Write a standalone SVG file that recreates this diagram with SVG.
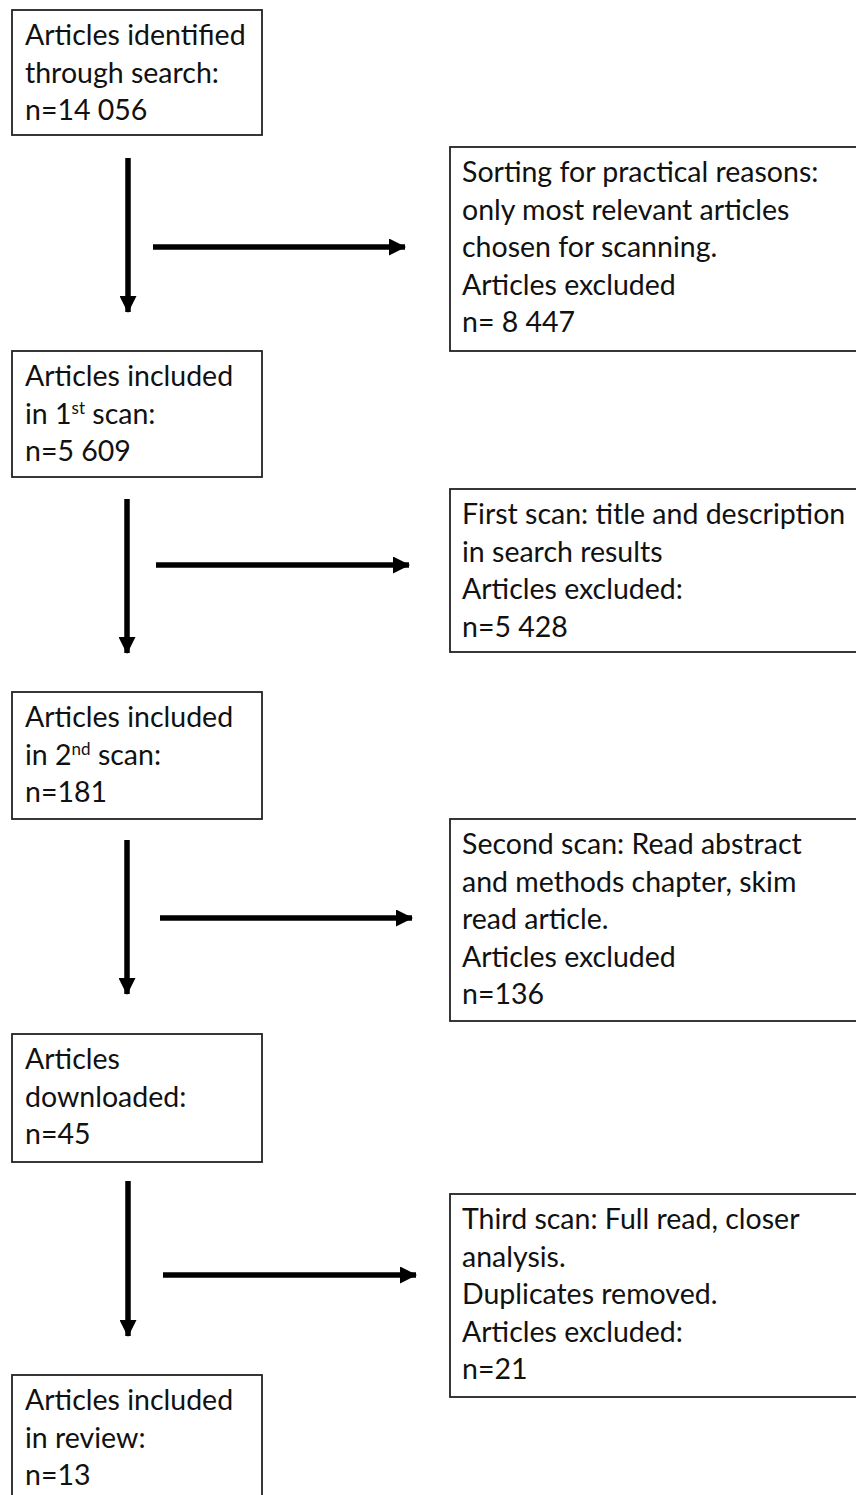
<svg xmlns="http://www.w3.org/2000/svg" width="856" height="1495" viewBox="0 0 856 1495">
<defs>
<style>
.box{fill:#fff;stroke:#222;stroke-width:1.8}
.t{font-family:Lato,"Liberation Sans",sans-serif;font-size:28.5px;fill:#111}
.sup{font-size:17px}
.c{stroke:#000;stroke-width:5.5;fill:none}
</style>
<marker id="ah" markerUnits="userSpaceOnUse" markerWidth="17" markerHeight="17" viewBox="0 0 17 17" refX="16" refY="8.5" orient="auto">
<path d="M0,0 L17,8.5 L0,17 Z" fill="#000"/>
</marker>
</defs>
<rect width="856" height="1495" fill="#fff"/>
<g id="connectors">
<line class="c" x1="128" y1="158" x2="128" y2="312" marker-end="url(#ah)"/>
<line class="c" x1="153" y1="247" x2="405" y2="247" marker-end="url(#ah)"/>
<line class="c" x1="127" y1="499" x2="127" y2="653" marker-end="url(#ah)"/>
<line class="c" x1="156" y1="565" x2="409" y2="565" marker-end="url(#ah)"/>
<line class="c" x1="127" y1="840" x2="127" y2="994" marker-end="url(#ah)"/>
<line class="c" x1="160" y1="918" x2="412" y2="918" marker-end="url(#ah)"/>
<line class="c" x1="128" y1="1181" x2="128" y2="1336" marker-end="url(#ah)"/>
<line class="c" x1="163" y1="1275" x2="416" y2="1275" marker-end="url(#ah)"/>
</g>
<g id="n1"><rect class="box" x="12" y="10" width="250" height="125"/>
<text class="t" x="25"><tspan x="25" y="45">Articles identified</tspan><tspan x="25" y="82.5">through search:</tspan><tspan x="25" y="120">n=14 056</tspan></text></g>
<g id="r1"><rect class="box" x="450" y="147" width="420" height="204"/>
<text class="t"><tspan x="462" y="182">Sorting for practical reasons:</tspan><tspan x="462" y="219.5">only most relevant articles</tspan><tspan x="462" y="257">chosen for scanning.</tspan><tspan x="462" y="294.5">Articles excluded</tspan><tspan x="462" y="332">n= 8 447</tspan></text></g>
<g id="n2"><rect class="box" x="12" y="351" width="250" height="126"/>
<text class="t"><tspan x="25" y="386">Articles included</tspan><tspan x="25" y="423.5">in 1<tspan class="sup" dy="-10">st</tspan><tspan dy="10"> scan:</tspan></tspan><tspan x="25" y="461">n=5 609</tspan></text></g>
<g id="r2"><rect class="box" x="450" y="489" width="420" height="163"/>
<text class="t"><tspan x="462" y="524">First scan: title and description</tspan><tspan x="462" y="561.5">in search results</tspan><tspan x="462" y="599">Articles excluded:</tspan><tspan x="462" y="636.5">n=5 428</tspan></text></g>
<g id="n3"><rect class="box" x="12" y="692" width="250" height="127"/>
<text class="t"><tspan x="25" y="727">Articles included</tspan><tspan x="25" y="764.5">in 2<tspan class="sup" dy="-10">nd</tspan><tspan dy="10"> scan:</tspan></tspan><tspan x="25" y="802">n=181</tspan></text></g>
<g id="r3"><rect class="box" x="450" y="819" width="420" height="202"/>
<text class="t"><tspan x="462" y="854">Second scan: Read abstract</tspan><tspan x="462" y="891.5">and methods chapter, skim</tspan><tspan x="462" y="929">read article.</tspan><tspan x="462" y="966.5">Articles excluded</tspan><tspan x="462" y="1004">n=136</tspan></text></g>
<g id="n4"><rect class="box" x="12" y="1034" width="250" height="128"/>
<text class="t"><tspan x="25" y="1069">Articles</tspan><tspan x="25" y="1106.5">downloaded:</tspan><tspan x="25" y="1144">n=45</tspan></text></g>
<g id="r4"><rect class="box" x="450" y="1194" width="420" height="203"/>
<text class="t"><tspan x="462" y="1229">Third scan: Full read, closer</tspan><tspan x="462" y="1266.5">analysis.</tspan><tspan x="462" y="1304">Duplicates removed.</tspan><tspan x="462" y="1341.5">Articles excluded:</tspan><tspan x="462" y="1379">n=21</tspan></text></g>
<g id="n5"><rect class="box" x="12" y="1375" width="250" height="130"/>
<text class="t"><tspan x="25" y="1410">Articles included</tspan><tspan x="25" y="1447.5">in review:</tspan><tspan x="25" y="1485">n=13</tspan></text></g>
</svg>
